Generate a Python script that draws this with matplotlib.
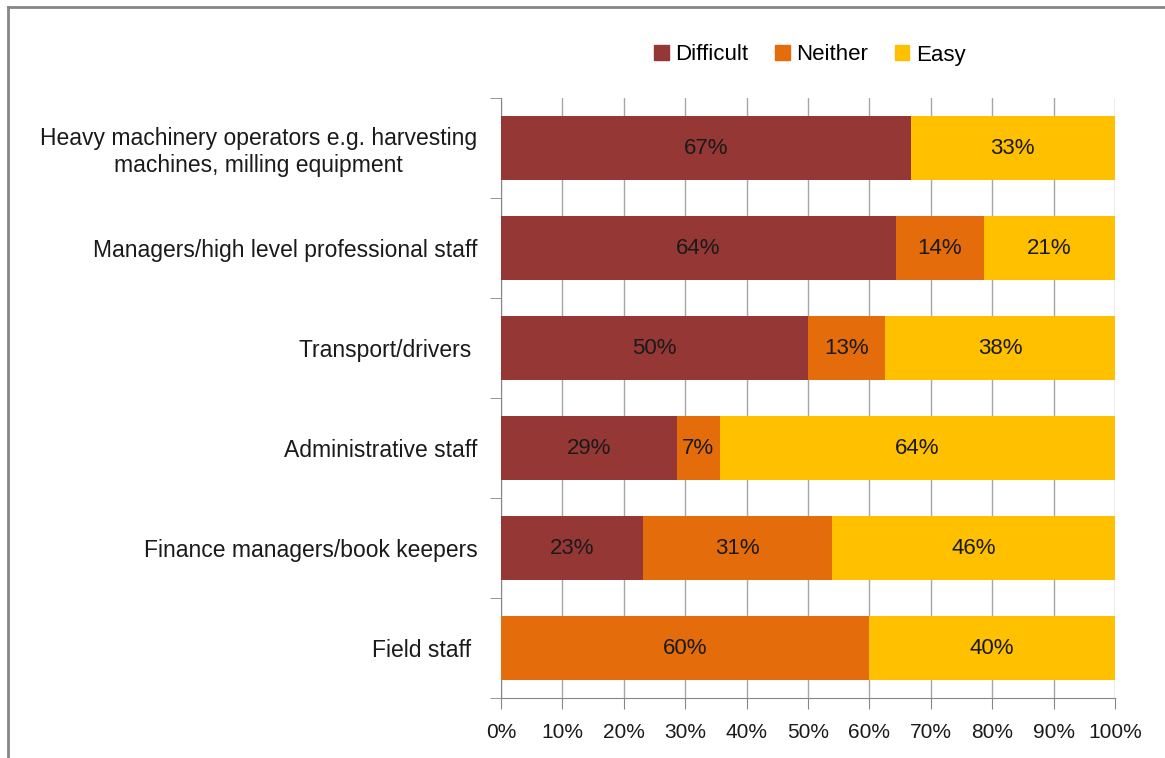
import matplotlib
matplotlib.use('Agg')
import matplotlib.pyplot as plt
import numpy as np
from matplotlib.lines import Line2D

plt.rcParams['font.family'] = ['Liberation Sans', 'DejaVu Sans']

CATEGORIES = ['Heavy machinery operators e.g. harvesting\nmachines, milling equipment',
              'Managers/high level professional staff',
              'Transport/drivers ',
              'Administrative staff',
              'Finance managers/book keepers',
              'Field staff ']
DIFFICULT = [66.7, 64.3, 50.0, 28.6, 23.1, 0.0]
NEITHER = [0.0, 14.3, 12.5, 7.1, 30.8, 60.0]
EASY = [33.3, 21.4, 37.5, 64.3, 46.2, 40.0]
SERIES = ['Difficult', 'Neither', 'Easy']
COLORS = ['#953735', '#E46C0A', '#FFC000']

fig = plt.figure(figsize=(11.65, 7.58), dpi=100)
ax = fig.add_axes([501 / 1165, 1 - 698 / 758, 614 / 1165, 600 / 758])

y = np.arange(len(CATEGORIES))
left = np.zeros(len(CATEGORIES))
for name, vals, col in zip(SERIES, [DIFFICULT, NEITHER, EASY], COLORS):
    vals = np.array(vals)
    ax.barh(y, vals, left=left, height=0.64, color=col, label=name, zorder=3)
    for yi, l, v in zip(y, left, vals):
        if v > 0:
            ax.text(l + v / 2, yi, '%d%%' % int(v + 0.5), ha='center', va='center',
                    fontsize=16, color='#1a1a1a', zorder=4)
    left += vals

ax.set_xlim(0, 100)
ax.set_ylim(len(CATEGORIES) - 0.5, -0.5)
ax.set_xticks(np.arange(0, 101, 10))
ax.set_xticklabels(['%d%%' % t for t in range(0, 101, 10)], fontsize=15, color='#1a1a1a')
ax.set_yticks(y)
ax.set_yticklabels(CATEGORIES, fontsize=16.5, color='#1a1a1a', multialignment='center',
                   linespacing=1.2)
ax.set_yticks(np.arange(-0.5, len(CATEGORIES)), minor=True)
ax.tick_params(axis='y', which='major', length=0, pad=17)
ax.tick_params(axis='y', which='minor', length=8, color='#868686', direction='out')
ax.tick_params(axis='x', length=8, color='#868686', direction='out', pad=10)
ax.grid(axis='x', color='#A6A6A6', linewidth=1, zorder=0)
for s in ['top', 'right']:
    ax.spines[s].set_visible(False)
for s in ['left', 'bottom']:
    ax.spines[s].set_color('#868686')

handles = [plt.Rectangle((0, 0), 1, 1, color=c) for c in COLORS]
fig.legend(handles, SERIES, loc='center', bbox_to_anchor=(810 / 1165, 1 - 55 / 758),
           ncol=3, frameon=False, fontsize=16, handlelength=0.65, handleheight=0.65,
           handletextpad=0.3, columnspacing=1.2)

# outer chart border
fig.add_artist(Line2D([8 / 1165, 8 / 1165], [0, 1 - 7 / 758], transform=fig.transFigure,
                      color='#868686', linewidth=2))
fig.add_artist(Line2D([8 / 1165, 1], [1 - 7 / 758, 1 - 7 / 758], transform=fig.transFigure,
                      color='#868686', linewidth=2))

fig.savefig('out.png', dpi=100, facecolor='white')
